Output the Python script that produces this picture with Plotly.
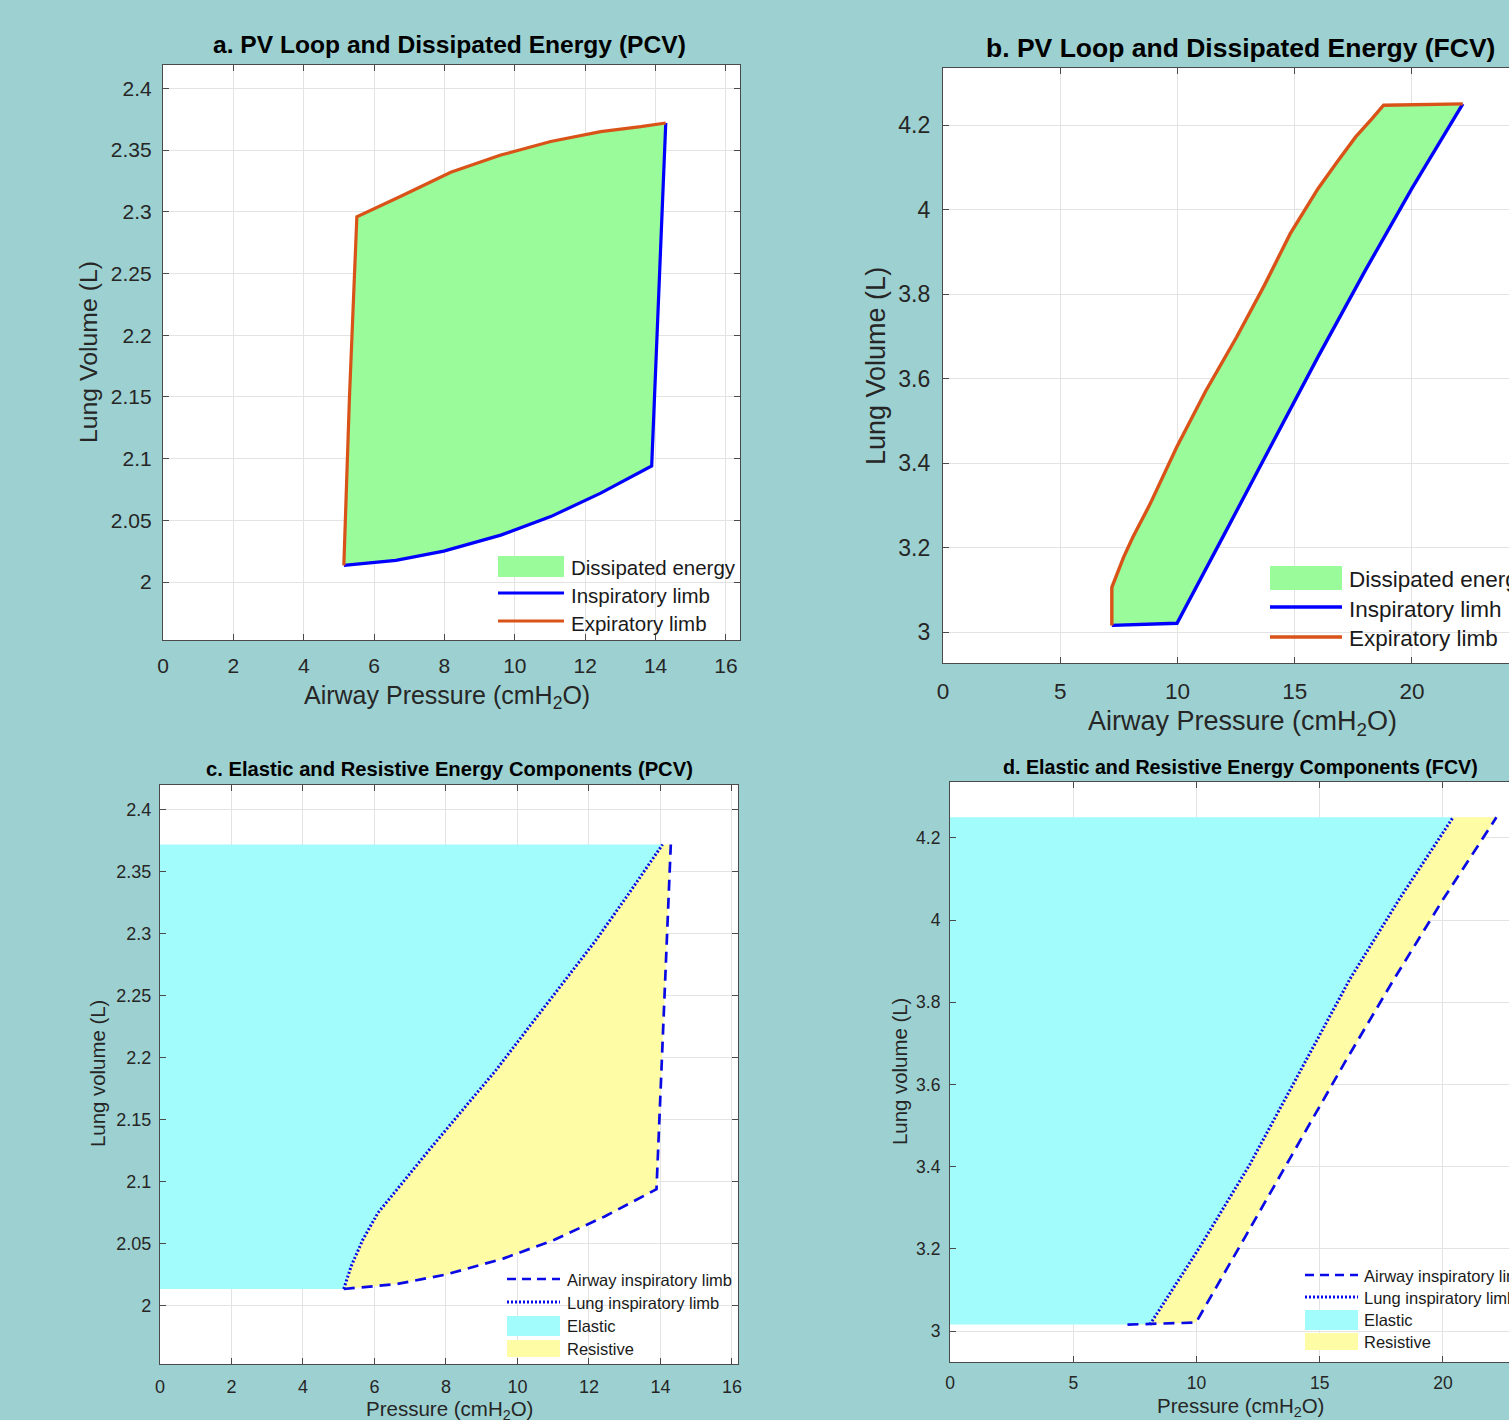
import plotly.graph_objects as go

# ---------------- data ----------------
# Panel a / c : PCV  (pressure cmH2O, volume L)
pcv_insp_p = [5.14, 6.62, 7.98, 9.60, 11.02, 12.44, 13.89, 14.29]
pcv_insp_v = [2.0135, 2.0175, 2.025, 2.038, 2.053, 2.072, 2.094, 2.372]
pcv_exp_p = [14.29, 13.58, 12.44, 11.02, 9.60, 8.18, 6.76, 5.51, 5.30, 5.14]
pcv_exp_v = [2.372, 2.369, 2.365, 2.357, 2.346, 2.332, 2.3126, 2.296, 2.150, 2.0135]
pcv_lung_p = [5.14, 5.35, 5.67, 6.10, 6.61, 7.54, 8.47, 9.40, 10.33, 11.27, 12.20, 13.13, 14.06]
pcv_lung_v = [2.0135, 2.032, 2.053, 2.075, 2.093, 2.126, 2.158, 2.190, 2.225, 2.260, 2.295, 2.333, 2.372]

# Panel b / d : FCV
fcv_insp_p = [7.20, 9.98, 12.0, 14.0, 16.0, 18.0, 20.0, 22.17]
fcv_insp_v = [3.016, 3.021, 3.232, 3.443, 3.652, 3.855, 4.05, 4.25]
fcv_exp_p = [22.17, 18.79, 18.3, 17.6, 16.8, 16.0, 14.81, 13.7, 12.53, 11.2, 9.97, 8.83, 8.1, 7.70, 7.20, 7.20]
fcv_exp_v = [4.25, 4.247, 4.215, 4.172, 4.112, 4.05, 3.943, 3.82, 3.699, 3.57, 3.438, 3.303, 3.225, 3.177, 3.106, 3.016]
fcv_lung_p = [8.11, 10.14, 12.16, 14.19, 16.22, 18.24, 20.41]
fcv_lung_v = [3.016, 3.205, 3.405, 3.630, 3.856, 4.052, 4.25]

# ticks
pcv_xticks = [0, 2, 4, 6, 8, 10, 12, 14, 16]
pcv_yticks = [2.0, 2.05, 2.1, 2.15, 2.2, 2.25, 2.3, 2.35, 2.4]
pcv_yticktext = ["2", "2.05", "2.1", "2.15", "2.2", "2.25", "2.3", "2.35", "2.4"]
fcv_xticks = [0, 5, 10, 15, 20, 25]
fcv_yticks = [3.0, 3.2, 3.4, 3.6, 3.8, 4.0, 4.2]
fcv_yticktext = ["3", "3.2", "3.4", "3.6", "3.8", "4", "4.2"]

titles = ["a. PV Loop and Dissipated Energy (PCV)",
          "b. PV Loop and Dissipated Energy (FCV)",
          "c. Elastic and Resistive Energy Components (PCV)",
          "d. Elastic and Resistive Energy Components (FCV)"]

# ---------------- style ----------------
W, H = 1509, 1420
BG = "#9dd1d1"
GREEN = "#99fb99"
CYAN = "#a3fcfc"
YELLOW = "#fffca6"
BLUE = "#0000ff"
DBLUE = "#0a0ae6"
ORANGE = "#d95319"
TXT = "#262626"
FONT = "Liberation Sans, Arial, sans-serif"


def px(x):
    return x / W


def py(y):
    return 1 - y / H


fig = go.Figure()

# ---- panel a ----
fig.add_trace(go.Scatter(x=pcv_insp_p + pcv_exp_p[1:], y=pcv_insp_v + pcv_exp_v[1:],
                         fill="toself", fillcolor=GREEN, line=dict(width=0),
                         mode="lines", xaxis="x", yaxis="y", hoverinfo="skip"))
fig.add_trace(go.Scatter(x=pcv_insp_p, y=pcv_insp_v, mode="lines",
                         line=dict(color=BLUE, width=3.2), xaxis="x", yaxis="y"))
fig.add_trace(go.Scatter(x=pcv_exp_p, y=pcv_exp_v, mode="lines",
                         line=dict(color=ORANGE, width=3.2), xaxis="x", yaxis="y"))

# ---- panel b ----
fig.add_trace(go.Scatter(x=fcv_insp_p + fcv_exp_p[1:], y=fcv_insp_v + fcv_exp_v[1:],
                         fill="toself", fillcolor=GREEN, line=dict(width=0),
                         mode="lines", xaxis="x2", yaxis="y2", hoverinfo="skip"))
fig.add_trace(go.Scatter(x=fcv_insp_p, y=fcv_insp_v, mode="lines",
                         line=dict(color=BLUE, width=3.4), xaxis="x2", yaxis="y2"))
fig.add_trace(go.Scatter(x=fcv_exp_p, y=fcv_exp_v, mode="lines",
                         line=dict(color=ORANGE, width=3.4), xaxis="x2", yaxis="y2"))

# ---- panel c ----
fig.add_trace(go.Scatter(x=[0] + pcv_lung_p + [0], y=[pcv_lung_v[0]] + pcv_lung_v + [pcv_lung_v[-1]],
                         fill="toself", fillcolor=CYAN, line=dict(width=0), mode="lines",
                         xaxis="x3", yaxis="y3", hoverinfo="skip"))
fig.add_trace(go.Scatter(x=pcv_lung_p + pcv_insp_p[::-1], y=pcv_lung_v + pcv_insp_v[::-1],
                         fill="toself", fillcolor=YELLOW, line=dict(width=0), mode="lines",
                         xaxis="x3", yaxis="y3", hoverinfo="skip"))
fig.add_trace(go.Scatter(x=pcv_insp_p, y=pcv_insp_v, mode="lines",
                         line=dict(color=DBLUE, width=2.7, dash="11px,7px"), xaxis="x3", yaxis="y3"))
fig.add_trace(go.Scatter(x=pcv_lung_p, y=pcv_lung_v, mode="lines",
                         line=dict(color=DBLUE, width=3, dash="2px,2px"), xaxis="x3", yaxis="y3"))

# ---- panel d ----
fig.add_trace(go.Scatter(x=[0] + fcv_lung_p + [0], y=[fcv_lung_v[0]] + fcv_lung_v + [fcv_lung_v[-1]],
                         fill="toself", fillcolor=CYAN, line=dict(width=0), mode="lines",
                         xaxis="x4", yaxis="y4", hoverinfo="skip"))
fig.add_trace(go.Scatter(x=fcv_lung_p + fcv_insp_p[::-1], y=fcv_lung_v + fcv_insp_v[::-1],
                         fill="toself", fillcolor=YELLOW, line=dict(width=0), mode="lines",
                         xaxis="x4", yaxis="y4", hoverinfo="skip"))
fig.add_trace(go.Scatter(x=fcv_insp_p, y=fcv_insp_v, mode="lines",
                         line=dict(color=DBLUE, width=2.7, dash="11px,7px"), xaxis="x4", yaxis="y4"))
fig.add_trace(go.Scatter(x=fcv_lung_p, y=fcv_lung_v, mode="lines",
                         line=dict(color=DBLUE, width=3, dash="2px,2px"), xaxis="x4", yaxis="y4"))


def axis(domain, rng, tickvals, ticktext, fs, anchor, mirror, standoff):
    return dict(domain=domain, range=rng, tickvals=tickvals, ticktext=ticktext,
                anchor=anchor, showgrid=True, gridcolor="#e3e3e3", gridwidth=1,
                zeroline=False, showline=True, linecolor="#4a4a4a", linewidth=1.2,
                mirror=mirror, ticks="inside", ticklen=6, tickcolor="#4a4a4a",
                tickfont=dict(family=FONT, size=fs, color=TXT),
                ticklabelstandoff=standoff, fixedrange=True)


layout = dict(
    width=W, height=H, paper_bgcolor=BG, plot_bgcolor="white",
    margin=dict(l=0, r=0, t=0, b=0, autoexpand=False),
    showlegend=False, font=dict(family=FONT, color=TXT),
    xaxis=axis([px(163), px(740)], [0, 16.4], pcv_xticks, [str(v) for v in pcv_xticks], 21, "y", "ticks", 7),
    yaxis=axis([py(640), py(65)], [1.953, 2.419], pcv_yticks, pcv_yticktext, 21, "x", "ticks", 6),
    xaxis2=axis([px(943), 1.0], [0, 24.14], fcv_xticks, [str(v) for v in fcv_xticks], 22.5, "y2", "ticks", 8),
    yaxis2=axis([py(663), py(68)], [2.927, 4.335], fcv_yticks, fcv_yticktext, 23, "x2", False, 7),
    xaxis3=axis([px(160), px(738)], [0, 16.17], pcv_xticks, [str(v) for v in pcv_xticks], 18, "y3", "ticks", 6),
    yaxis3=axis([py(1364), py(785)], [1.953, 2.42], pcv_yticks, pcv_yticktext, 18, "x3", "ticks", 4),
    xaxis4=axis([px(950), 1.0], [0, 22.68], fcv_xticks, [str(v) for v in fcv_xticks], 17.5, "y4", "ticks", 5),
    yaxis4=axis([py(1362), py(782)], [2.925, 4.336], fcv_yticks, fcv_yticktext, 17.5, "x4", False, 5),
)
fig.update_layout(**layout)

annotations = []
shapes = []


def text(x, y, s, size, bold=False, angle=0, xanchor="center", color=TXT):
    annotations.append(dict(x=px(x), y=py(y), xref="paper", yref="paper", text=("<b>%s</b>" % s) if bold else s,
                            showarrow=False, xanchor=xanchor, yanchor="middle", textangle=angle,
                            font=dict(family=FONT, size=size, color=color)))


# titles
text(449, 45, titles[0], 24.6, bold=True, color="black")
text(1240, 48, titles[1], 26.5, bold=True, color="black")
text(449, 769, titles[2], 20.2, bold=True, color="black")
text(1240, 767, titles[3], 19.7, bold=True, color="black")

# axis titles
text(447, 697, "Airway Pressure (cmH<sub>2</sub>O)", 25)
text(88, 352, "Lung Volume (L)", 24.8, angle=-90)
text(1242, 723, "Airway Pressure (cmH<sub>2</sub>O)", 27)
text(876, 366, "Lung Volume (L)", 27, angle=-90)
text(449, 1410, "Pressure (cmH<sub>2</sub>O)", 20.5)
text(98, 1074, "Lung volume (L)", 20.4, angle=-90)
text(1240, 1407, "Pressure (cmH<sub>2</sub>O)", 20.5)
text(900, 1071, "Lung volume (L)", 20.4, angle=-90)


def rect(x0, y0, x1, y1, color):
    shapes.append(dict(type="rect", xref="paper", yref="paper", x0=px(x0), x1=px(x1), y0=py(y1), y1=py(y0),
                       fillcolor=color, line=dict(width=0), layer="above"))


def seg(x0, x1, y, color, width, dash="solid"):
    shapes.append(dict(type="line", xref="paper", yref="paper", x0=px(x0), x1=px(x1), y0=py(y), y1=py(y),
                       line=dict(color=color, width=width, dash=dash), layer="above"))


# legend a
rect(498, 556, 564, 577, GREEN)
seg(498, 564, 593, BLUE, 3.2)
seg(498, 564, 621, ORANGE, 3.2)
text(569, 567, "Dissipated energy", 20.5, xanchor="left", color="#1a1a1a")
text(569, 595, "Inspiratory limb", 20.5, xanchor="left", color="#1a1a1a")
text(569, 623, "Expiratory limb", 20.5, xanchor="left", color="#1a1a1a")

# legend b
rect(1270, 566, 1342, 590, GREEN)
seg(1270, 1342, 607, BLUE, 3.5)
seg(1270, 1342, 637, ORANGE, 3.5)
text(1347, 579, "Dissipated energy", 22.5, xanchor="left", color="#1a1a1a")
text(1347, 609, "Inspiratory limh", 22.5, xanchor="left", color="#1a1a1a")
text(1347, 639, "Expiratory limb", 22.5, xanchor="left", color="#1a1a1a")

# legend c
seg(507, 560, 1279, DBLUE, 2.7, "9px,6px")
seg(507, 560, 1302, DBLUE, 3, "2px,2px")
rect(507, 1316, 560, 1336, CYAN)
rect(507, 1340, 560, 1357, YELLOW)
text(565, 1280, "Airway inspiratory limb", 16.5, xanchor="left", color="#1a1a1a")
text(565, 1303, "Lung inspiratory limb", 16.5, xanchor="left", color="#1a1a1a")
text(565, 1326, "Elastic", 16.5, xanchor="left", color="#1a1a1a")
text(565, 1349, "Resistive", 16.5, xanchor="left", color="#1a1a1a")

# legend d
seg(1305, 1358, 1275, DBLUE, 2.7, "9px,6px")
seg(1305, 1358, 1297, DBLUE, 3, "2px,2px")
rect(1305, 1310, 1358, 1330, CYAN)
rect(1305, 1333, 1358, 1350, YELLOW)
text(1362, 1276, "Airway inspiratory limb", 16.5, xanchor="left", color="#1a1a1a")
text(1362, 1298, "Lung inspiratory limb", 16.5, xanchor="left", color="#1a1a1a")
text(1362, 1320, "Elastic", 16.5, xanchor="left", color="#1a1a1a")
text(1362, 1342, "Resistive", 16.5, xanchor="left", color="#1a1a1a")

fig.update_layout(annotations=annotations, shapes=shapes)
fig.write_html("out.html")
